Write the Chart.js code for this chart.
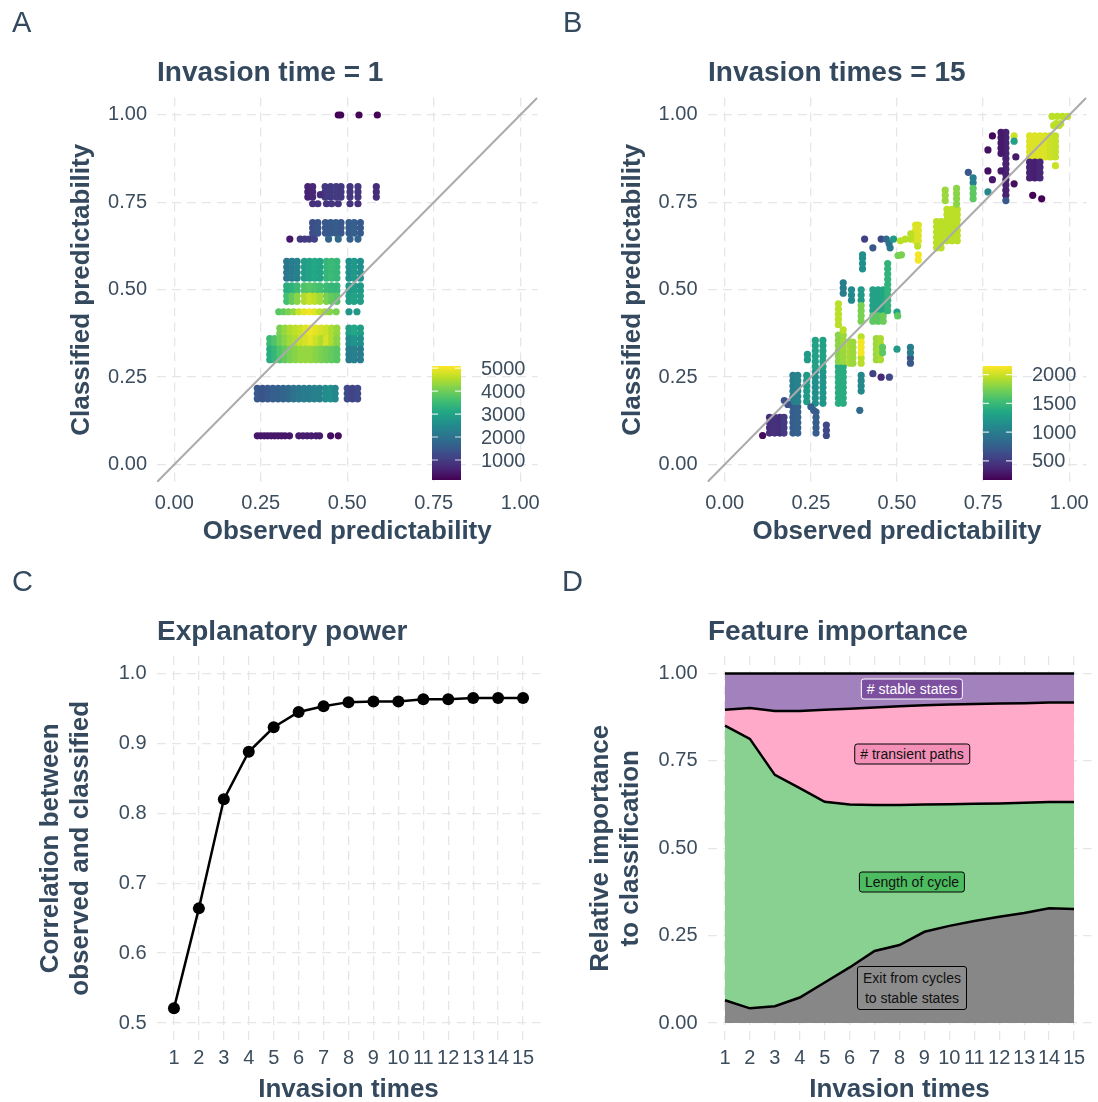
<!DOCTYPE html>
<html>
<head>
<meta charset="utf-8">
<script src="https://cdn.jsdelivr.net/npm/chart.js@4.4.1/dist/chart.umd.min.js"></script>
<style>
  html, body { margin: 0; padding: 0; background: #fff; overflow: hidden; }
  #page { position: relative; width: 1098px; height: 1102px; font-family: "Liberation Sans", Arial, Helvetica, sans-serif; }
  canvas { position: absolute; }
  .tag { position: absolute; font-size: 29px; line-height: 29px; color: #34495e; }
  .title { position: absolute; font-size: 28px; line-height: 28px; font-weight: bold; color: #34495e; white-space: nowrap; }
  .lab { position: absolute; font-size: 14px; line-height: 17px; padding: 1px 5px; border: 1px solid #000; border-radius: 3px;
         transform: translate(-50%, -50%); text-align: center; white-space: nowrap; color: #111; }
</style>
</head>
<body>
<div id="page">
  <canvas id="chartA" width="549" height="551" style="left:0;top:0;width:549px;height:551px"></canvas>
  <canvas id="chartB" width="548" height="551" style="left:550px;top:0;width:548px;height:551px"></canvas>
  <canvas id="chartC" width="549" height="551" style="left:0;top:559px;width:549px;height:551px"></canvas>
  <canvas id="chartD" width="548" height="551" style="left:550px;top:559px;width:548px;height:551px"></canvas>

  <div class="tag" style="left:12px;top:8px">A</div>
  <div class="tag" style="left:563px;top:8px">B</div>
  <div class="tag" style="left:12px;top:567px">C</div>
  <div class="tag" style="left:562px;top:567px">D</div>

  <div class="title" style="left:157px;top:58px">Invasion time = 1</div>
  <div class="title" style="left:708px;top:58px">Invasion times = 15</div>
  <div class="title" style="left:157px;top:617px">Explanatory power</div>
  <div class="title" style="left:708px;top:617px">Feature importance</div>

  <div class="lab" style="left:912px;top:689px;background:#7d4f9f;border-color:#fff;color:#fff">&#35; stable states</div>
  <div class="lab" style="left:912px;top:754px;background:#f490b7">&#35; transient paths</div>
  <div class="lab" style="left:912px;top:882px;background:#4dbb5f">Length of cycle</div>
  <div class="lab" style="left:912px;top:988px;background:#8c8c8c;line-height:20px">Exit from cycles<br>to stable states</div>
</div>

<script>
// ---- data ----
// scatter blocks: [x values, y values, colour value for each x]
const invasion1Blocks = [
  [[.474, .481, .534, .587], [1], [160, 160, 160, 160]],
  [[.386, .40, .436, .452, .468, .482, .508, .531, .584], [.765, .78, .795], [600, 650, 950, 950, 1000, 950, 900, 900, 750]],
  [[.40, .415, .44, .455, .474, .508, .531], [.746], [800, 850, 850, 900, 850, 850, 800]],
  [[.40, .415, .437, .452, .467, .482, .505, .52, .538], [.662, .677, .692], [1300, 1400, 1500, 1500, 1550, 1450, 1550, 1600, 1500]],
  [[.334, .364, .377, .39, .405, .446, .474, .508, .531], [.645], [450, 900, 1000, 1000, 1100, 1700, 1800, 1600, 1700]],
  [[.325, .34, .355, .376, .391, .406, .421, .44, .455, .47, .505, .52, .538], [.533, .549, .565, .581],
    [2100, 2200, 2300, 2900, 3000, 3100, 3000, 3400, 3500, 3400, 2600, 2800, 2600]],
  [[.325, .34, .355, .376, .391, .406, .421, .44, .455, .47, .505, .52, .538], [.497, .511],
    [3200, 3300, 3500, 3700, 3800, 3700, 3600, 3500, 3400, 3400, 2800, 2900, 2800]],
  [[.325, .34, .355, .376, .391, .406, .421, .44, .455, .47, .505, .52, .538], [.467, .482],
    [3600, 3900, 4200, 4500, 4700, 4600, 4400, 4100, 3900, 3800, 2900, 3000, 2900]],
  [[.302, .316, .33, .345, .36, .375, .39, .405, .42, .435, .449, .468, .505, .528], [.437],
    [3800, 3900, 4100, 4300, 4700, 4900, 5000, 4900, 4600, 4400, 4200, 4100, 2700, 2800]],
  [[.305, .32, .335, .35, .365, .38, .395, .41, .425, .44, .455, .47, .505, .52, .538], [.375, .39],
    [4100, 4300, 4500, 4600, 4700, 4900, 5000, 4900, 4800, 4700, 4500, 4300, 2900, 3100, 2900]],
  [[.276, .29, .305, .32, .335, .35, .365, .38, .395, .41, .425, .44, .455, .47, .505, .52, .538], [.345, .36],
    [3500, 3700, 4000, 4200, 4400, 4500, 4700, 4800, 4900, 4700, 4500, 4800, 4500, 4200, 2500, 2700, 2600]],
  [[.276, .29, .305, .32, .335, .35, .365, .38, .395, .41, .425, .44, .455, .47, .505, .52, .538], [.30, .315, .33],
    [3200, 3400, 3700, 3900, 4100, 4200, 4300, 4300, 4300, 4200, 4100, 4000, 3900, 3800, 2200, 2300, 2200]],
  [[.24, .255, .27, .285, .30, .315, .33, .345, .36, .375, .39, .405, .42, .437, .452, .465, .50, .515, .53], [.188, .203, .218],
    [1500, 1400, 1500, 1600, 1600, 1700, 1800, 2000, 2100, 2200, 2200, 2300, 2300, 2500, 2600, 2400, 1200, 1100, 1200]],
  [[.24, .25, .26, .27, .28, .29, .30, .31, .32, .333, .36, .372, .384, .396, .41, .42, .452, .474], [.082],
    [450, 450, 450, 450, 450, 450, 450, 450, 450, 450, 500, 500, 500, 500, 500, 500, 300, 300]]
];
const invasion1Single = [[.422, .772, 700]];

const invasion15Blocks = [
  [[.13, .145, .16, .172], [.09, .105, .12, .135], [420, 450, 420, 500]],
  [[.198, .212], [.09, .105, .12, .135, .15, .165], [750, 780]],
  [[.198, .212], [.18, .195, .21, .225, .24, .255], [1000, 1050]],
  [[.238], [.18, .195, .21, .225, .24, .255], [1250]],
  [[.24], [.30, .315], [1250]],
  [[.263, .285], [.175, .19, .205, .22, .235, .25, .265], [1150, 1200]],
  [[.263, .285], [.28, .295, .31, .325, .34, .355], [1300, 1300]],
  [[.265], [.09, .105, .12, .135, .15], [750]],
  [[.295], [.083, .098, .113], [600]],
  [[.33, .344], [.175, .19, .205, .22, .235, .25, .265, .28], [1400, 1400]],
  [[.33, .344], [.295, .31, .325, .34, .355, .37], [1800, 1850]],
  [[.33], [.40, .415, .43, .445, .46], [1950]],
  [[.344], [.49, .505, .52], [1000]],
  [[.368], [.47, .485, .50], [1100]],
  [[.363, .372], [.29, .305, .32, .335, .35], [1900, 1850]],
  [[.396], [.47, .485, .50], [1250]],
  [[.396], [.41, .425, .44, .455], [1750]],
  [[.396], [.29, .305, .365], [1950]],
  [[.396], [.32, .335, .35], [2120]],
  [[.396], [.21, .225, .24, .255], [1100]],
  [[.40], [.56, .575, .59, .60], [1150]],
  [[.44, .452], [.30, .315, .33, .345, .36], [1850, 1900]],
  [[.458], [.32, .335], [1650]],
  [[.43, .445, .46], [.44, .455, .47, .485, .50], [1300, 1300, 1350]],
  [[.43, .445, .46], [.41, .425], [1650, 1650, 1700]],
  [[.473], [.44, .455, .47, .485, .50, .515, .53, .545, .56, .575], [1450]],
  [[.539], [.29, .305], [700]],
  [[.539], [.32, .335], [1000]],
  [[.554, .562], [.64, .655, .67, .685], [2050, 2050]],
  [[.562], [.585, .60], [2120]],
  [[.615, .628], [.62, .635, .65, .665, .68, .695], [1950, 1950]],
  [[.645, .66, .675], [.64, .655, .67, .685, .70, .715, .73], [1950, 1950, 1950]],
  [[.64], [.755, .77, .785], [1850]],
  [[.673], [.745, .76, .775, .79], [1800]],
  [[.721], [.806, .82], [1000]],
  [[.721], [.76, .775, .79], [1650]],
  [[.816], [.77, .785, .80, .815, .83, .845, .86, .875, .89, .905, .92, .935, .95], [350]],
  [[.802], [.89, .905, .92, .935, .95], [300]],
  [[.885, .90, .915, .93, .945, .96], [.88, .895, .91, .925, .94], [2050, 2050, 2050, 2050, 2000, 1980]],
  [[.885, .90, .915], [.82, .835, .85, .865], [350, 330, 380]],
  [[.95, .965, .98, .995], [.996], [1950, 1950, 1950, 1950]],
  [[.962, .975], [.975], [1950, 1950]]
];
const invasion15Single = [
  [.11, .083, 220], [.173, .183, 650], [.183, .172, 650], [.25, .165, 750], [.258, .155, 750],
  [.392, .155, 850], [.344, .385, 1950], [.43, .26, 550], [.454, .25, 400], [.478, .25, 600],
  [.50, .436, 1300], [.50, .33, 1250], [.502, .425, 1650], [.406, .645, 550], [.454, .645, 600],
  [.43, .62, 700], [.469, .645, 850], [.477, .632, 900], [.48, .62, 950], [.49, .645, 1250],
  [.51, .64, 1950], [.524, .645, 1950], [.503, .598, 1750], [.513, .60, 1750],
  [.56, .625, 1950], [.54, .645, 1950], [.54, .66, 1950],
  [.707, .836, 700], [.764, .78, 1100], [.777, .94, 200], [.764, .90, 250], [.764, .84, 250],
  [.777, .815, 300], [.802, .84, 300], [.84, .803, 250], [.845, .88, 300], [.84, .94, 2000],
  [.84, .925, 1300], [.816, .755, 700], [.894, .77, 180], [.92, .76, 180], [.96, .855, 2000],
  [.955, .97, 1950], [.97, .97, 1950]
];

const predRange = [-0.05, 1.05];
const predTicks = [0, 0.25, 0.5, 0.75, 1];
const colourRangeA = [130, 5090];
const colourTicksA = [1000, 2000, 3000, 4000, 5000];
const colourRangeB = [167, 2150];
const colourTicksB = [500, 1000, 1500, 2000];

const invasionTimes = [1, 2, 3, 4, 5, 6, 7, 8, 9, 10, 11, 12, 13, 14, 15];
const correlation = [0.521, 0.664, 0.820, 0.888, 0.923, 0.945, 0.953, 0.959, 0.960, 0.960, 0.963, 0.963, 0.965, 0.965, 0.965];
const corrTicks = [0.5, 0.6, 0.7, 0.8, 0.9, 1.0];

const exitFromCycles = [.065, .042, .048, .073, .116, .159, .206, .223, .261, .278, .292, .304, .315, .328, .326];
const lengthOfCycle = [.786, .771, .662, .599, .517, .466, .418, .401, .364, .348, .335, .324, .315, .304, .306];
const transientPaths = [.045, .088, .183, .221, .263, .274, .279, .282, .284, .285, .286, .286, .285, .285, .285];
const stableStates = [.104, .099, .107, .107, .104, .101, .097, .094, .091, .089, .087, .086, .085, .083, .083];
const importanceTicks = [0, 0.25, 0.5, 0.75, 1];

// ---- helpers ----
const tickColour = '#3c4d5e';
const titleColour = '#34495e';
const viridisStops = ['#440154', '#482576', '#414487', '#35608d', '#2a788e', '#21908c', '#22a884', '#43bf71', '#7ad151', '#bbdf27', '#fde725'];

function hexRgb(h) {
    return [parseInt(h.slice(1, 3), 16), parseInt(h.slice(3, 5), 16), parseInt(h.slice(5, 7), 16)];
}

function viridis(t) {
    t = Math.min(1, Math.max(0, t));
    var p = t * 10;
    var i = Math.min(9, Math.floor(p));
    var f = p - i;
    var a = hexRgb(viridisStops[i]), b = hexRgb(viridisStops[i + 1]);
    var c = a.map(function(v, k) { return Math.round(v + (b[k] - v) * f); });
    return 'rgb(' + c.join(',') + ')';
}

function expandBlocks(blocks, singles) {
    var pts = [];
    blocks.forEach(function(b) {
        b[0].forEach(function(x, i) {
            b[1].forEach(function(y) {
                pts.push([x, y, b[2][i]]);
            });
        });
    });
    singles.forEach(function(s) { pts.push(s); });
    return pts;
}

Chart.defaults.font.family = '"Liberation Sans", Arial, Helvetica, sans-serif';
Chart.defaults.color = tickColour;
Chart.defaults.animation = false;
Chart.defaults.plugins.legend.display = false;
Chart.defaults.plugins.tooltip.enabled = false;

function makeScale(axis, o) {
    return {
        type: 'linear',
        min: o.min,
        max: o.max,
        stacked: !!o.stacked,
        afterBuildTicks: function(s) { s.ticks = o.ticks.map(function(v) { return { value: v }; }); },
        afterFit: function(s) { if (axis === 'x') { s.height = o.size; } else { s.width = o.size; } },
        grid: { color: '#e6e6e6', lineWidth: 1.3, drawTicks: false },
        border: { display: false, dash: [9, 6] },
        ticks: {
            padding: o.pad, autoSkip: false, maxRotation: 0, minRotation: 0,
            font: { size: 20 }, color: tickColour,
            callback: function(v) { return o.digits === 0 ? String(v) : Number(v).toFixed(o.digits); }
        },
        title: {
            display: true, text: o.title, color: titleColour,
            font: { size: 26, weight: 'bold', lineHeight: 1.16 },
            padding: axis === 'x' ? { top: 0, bottom: o.titlePad } : { top: o.titlePad, bottom: 0 }
        }
    };
}

function layoutFor(area, w) {
    return { padding: { left: 0, right: w - area.right, top: area.top, bottom: 0 } };
}

const colourBar = {
    id: 'colourBar',
    afterDatasetsDraw: function(chart, args, opts) {
        var ctx = chart.ctx;
        var h = opts.bottom - opts.top;
        ctx.save();
        var grad = ctx.createLinearGradient(0, opts.bottom, 0, opts.top);
        viridisStops.forEach(function(c, i) { grad.addColorStop(i / 10, c); });
        ctx.fillStyle = grad;
        ctx.fillRect(opts.x, opts.top, opts.w, h);
        ctx.font = '20px "Liberation Sans", Arial, sans-serif';
        ctx.textBaseline = 'middle';
        ctx.textAlign = 'left';
        opts.ticks.forEach(function(t) {
            var y = opts.bottom - (t - opts.min) / (opts.max - opts.min) * h;
            ctx.strokeStyle = 'rgba(255,255,255,0.8)';
            ctx.lineWidth = 1.2;
            ctx.beginPath();
            ctx.moveTo(opts.x, y); ctx.lineTo(opts.x + 6, y);
            ctx.moveTo(opts.x + opts.w - 6, y); ctx.lineTo(opts.x + opts.w, y);
            ctx.stroke();
            ctx.fillStyle = tickColour;
            ctx.fillText(String(t), opts.labelX, y + 1);
        });
        ctx.restore();
    }
};

function scatterPanel(id, w, area, blocks, singles, cRange, cTicks, barX, yTitlePad) {
    var pts = expandBlocks(blocks, singles);
    var colours = pts.map(function(p) { return viridis((p[2] - cRange[0]) / (cRange[1] - cRange[0])); });
    new Chart(document.getElementById(id), {
        type: 'scatter',
        data: {
            datasets: [{
                type: 'line',
                data: predRange.map(function(v) { return { x: v, y: v }; }),
                borderColor: '#ababab', borderWidth: 2, pointRadius: 0, order: 0
            }, {
                data: pts.map(function(p) { return { x: p[0], y: p[1] }; }),
                backgroundColor: colours, pointBackgroundColor: colours,
                pointRadius: 3.6, pointBorderWidth: 0, borderWidth: 0, order: 1
            }]
        },
        options: {
            responsive: false,
            layout: layoutFor(area, w),
            scales: {
                x: makeScale('x', { min: predRange[0], max: predRange[1], ticks: predTicks, digits: 2, size: 551 - area.bottom, pad: 9, title: 'Observed predictability', titlePad: 4.5 }),
                y: makeScale('y', { min: predRange[0], max: predRange[1], ticks: predTicks, digits: 2, size: area.left, pad: 10, title: 'Classified predictability', titlePad: yTitlePad })
            },
            plugins: {
                colourBar: { x: barX, w: 29, top: 366, bottom: 480, min: cRange[0], max: cRange[1], ticks: cTicks, labelX: barX + 49 }
            }
        },
        plugins: [colourBar]
    });
}

scatterPanel('chartA', 549, { left: 157, right: 541.5, top: 97.5, bottom: 482 }, invasion1Blocks, invasion1Single, colourRangeA, colourTicksA, 432, 66.5);
scatterPanel('chartB', 548, { left: 157.5, right: 541.5, top: 97.5, bottom: 482 }, invasion15Blocks, invasion15Single, colourRangeB, colourTicksB, 433, 67.5);

// panel C
var areaC = { left: 156.5, right: 540.5, top: 97, bottom: 481.5 };
new Chart(document.getElementById('chartC'), {
    type: 'line',
    data: {
        datasets: [{
            data: invasionTimes.map(function(t, i) { return { x: t, y: correlation[i] }; }),
            borderColor: '#000', borderWidth: 2.5, tension: 0,
            pointRadius: 6, pointBackgroundColor: '#000', pointBorderWidth: 0
        }]
    },
    options: {
        responsive: false,
        layout: layoutFor(areaC, 549),
        scales: {
            x: makeScale('x', { min: 0.3, max: 15.7, ticks: invasionTimes, digits: 0, size: 551 - areaC.bottom, pad: 6, title: 'Invasion times', titlePad: 5.5 }),
            y: makeScale('y', { min: 0.475, max: 1.025, ticks: corrTicks, digits: 1, size: areaC.left, pad: 10, title: ['Correlation between', 'observed and classified'], titlePad: 35.5 })
        }
    }
});

// panel D
var areaD = { left: 157.5, right: 541.5, top: 97, bottom: 481.5 };
function stackSet(values, colour, fill) {
    return {
        data: invasionTimes.map(function(t, i) { return { x: t, y: values[i] }; }),
        backgroundColor: colour, borderColor: '#000', borderWidth: 2.5,
        pointRadius: 0, tension: 0, fill: fill
    };
}
new Chart(document.getElementById('chartD'), {
    type: 'line',
    data: {
        datasets: [
            stackSet(exitFromCycles, '#878787', 'origin'),
            stackSet(lengthOfCycle, '#89d191', '-1'),
            stackSet(transientPaths, '#ffaac9', '-1'),
            stackSet(stableStates, '#a381bd', '-1')
        ]
    },
    options: {
        responsive: false,
        layout: layoutFor(areaD, 548),
        scales: {
            x: makeScale('x', { min: 0.3, max: 15.7, ticks: invasionTimes, digits: 0, size: 551 - areaD.bottom, pad: 6, title: 'Invasion times', titlePad: 5.5 }),
            y: makeScale('y', { min: -0.05, max: 1.05, ticks: importanceTicks, digits: 2, size: areaD.left, pad: 10, stacked: true, title: ['Relative importance', 'to classification'], titlePad: 35.5 })
        }
    }
});
</script>
</body>
</html>
